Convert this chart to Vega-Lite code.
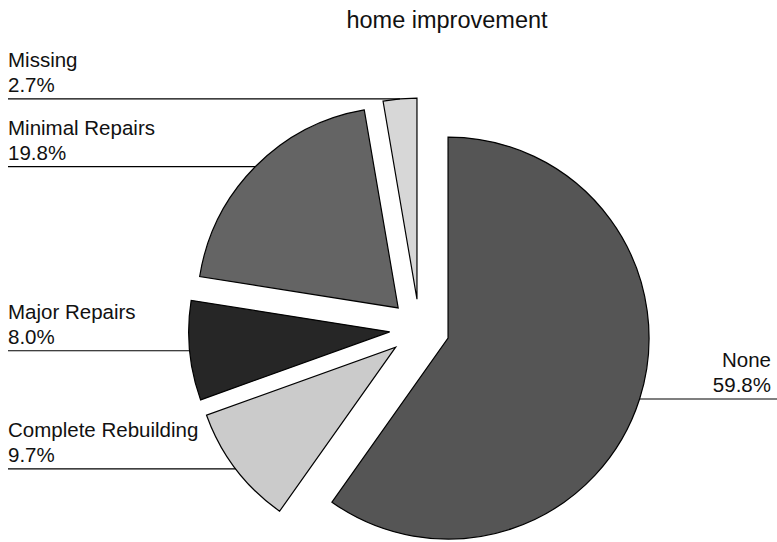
{
  "$schema": "https://vega.github.io/schema/vega-lite/v6.json",
  "width": 769,
  "height": 502,
  "autosize": {"type": "none"},
  "padding": {"left": 8, "right": 0, "top": 40, "bottom": 0},
  "background": "white",
  "title": {
    "text": "home improvement",
    "font": "Liberation Sans",
    "fontSize": 23.5,
    "fontWeight": "normal",
    "color": "#111111",
    "anchor": "middle",
    "frame": "group",
    "dx": 54.5,
    "offset": 8
  },
  "data": {
    "values": [
      {"category": "None", "value": 0.598},
      {"category": "Complete Rebuilding", "value": 0.097},
      {"category": "Major Repairs", "value": 0.080},
      {"category": "Minimal Repairs", "value": 0.198},
      {"category": "Missing", "value": 0.027}
    ]
  },
  "transform": [
    {"stack": "value", "groupby": [], "as": ["v0", "v1"]},
    {"calculate": "PI*(datum.v0+datum.v1)", "as": "mid"},
    {"calculate": "0.149*sin(datum.mid)", "as": "ex"},
    {"calculate": "0.149*cos(datum.mid)", "as": "ey"},
    {"calculate": "1.149*sin(datum.mid)", "as": "ax"},
    {"calculate": "1.149*cos(datum.mid)", "as": "ay"}
  ],
  "layer": [
    {
      "mark": {"type": "arc", "radius": 201, "stroke": "black", "strokeWidth": 1.2},
      "encoding": {
        "x": {"field": "ex", "type": "quantitative", "scale": {"domain": [-2.0473, 1.7786], "nice": false, "zero": false}, "axis": null},
        "y": {"field": "ey", "type": "quantitative", "scale": {"domain": [-1.0597, 1.4378], "nice": false, "zero": false}, "axis": null},
        "theta": {"field": "v0", "type": "quantitative", "scale": {"domain": [0, 1]}},
        "theta2": {"field": "v1"},
        "color": {
          "field": "category",
          "type": "nominal",
          "scale": {
            "domain": ["None", "Complete Rebuilding", "Major Repairs", "Minimal Repairs", "Missing"],
            "range": ["#555555", "#cbcbcb", "#262626", "#646464", "#d7d7d7"]
          },
          "legend": null
        }
      }
    },
    {
      "transform": [{"filter": "datum.ax < 0"}],
      "mark": {"type": "rule", "stroke": "black", "strokeWidth": 1.2},
      "encoding": {
        "x": {"field": "ax", "type": "quantitative"},
        "x2": {"value": 0},
        "y": {"field": "ay", "type": "quantitative"}
      }
    },
    {
      "transform": [{"filter": "datum.ax >= 0"}],
      "mark": {"type": "rule", "stroke": "black", "strokeWidth": 1.2},
      "encoding": {
        "x": {"field": "ax", "type": "quantitative"},
        "x2": {"value": "width"},
        "y": {"field": "ay", "type": "quantitative"}
      }
    },
    {
      "transform": [{"filter": "datum.ax < 0"}],
      "mark": {"type": "text", "align": "left", "baseline": "alphabetic", "dy": -32, "fontSize": 20.5, "font": "Liberation Sans", "color": "#111111"},
      "encoding": {
        "x": {"value": 0},
        "y": {"field": "ay", "type": "quantitative"},
        "text": {"field": "category"}
      }
    },
    {
      "transform": [{"filter": "datum.ax < 0"}],
      "mark": {"type": "text", "align": "left", "baseline": "alphabetic", "dy": -7, "fontSize": 20.5, "font": "Liberation Sans", "color": "#111111"},
      "encoding": {
        "x": {"value": 0},
        "y": {"field": "ay", "type": "quantitative"},
        "text": {"field": "value", "type": "quantitative", "format": ".1%"}
      }
    },
    {
      "transform": [{"filter": "datum.ax >= 0"}],
      "mark": {"type": "text", "align": "right", "baseline": "alphabetic", "dx": -6, "dy": -32, "fontSize": 20.5, "font": "Liberation Sans", "color": "#111111"},
      "encoding": {
        "x": {"value": "width"},
        "y": {"field": "ay", "type": "quantitative"},
        "text": {"field": "category"}
      }
    },
    {
      "transform": [{"filter": "datum.ax >= 0"}],
      "mark": {"type": "text", "align": "right", "baseline": "alphabetic", "dx": -6, "dy": -7, "fontSize": 20.5, "font": "Liberation Sans", "color": "#111111"},
      "encoding": {
        "x": {"value": "width"},
        "y": {"field": "ay", "type": "quantitative"},
        "text": {"field": "value", "type": "quantitative", "format": ".1%"}
      }
    }
  ],
  "config": {"view": {"stroke": null}}
}
